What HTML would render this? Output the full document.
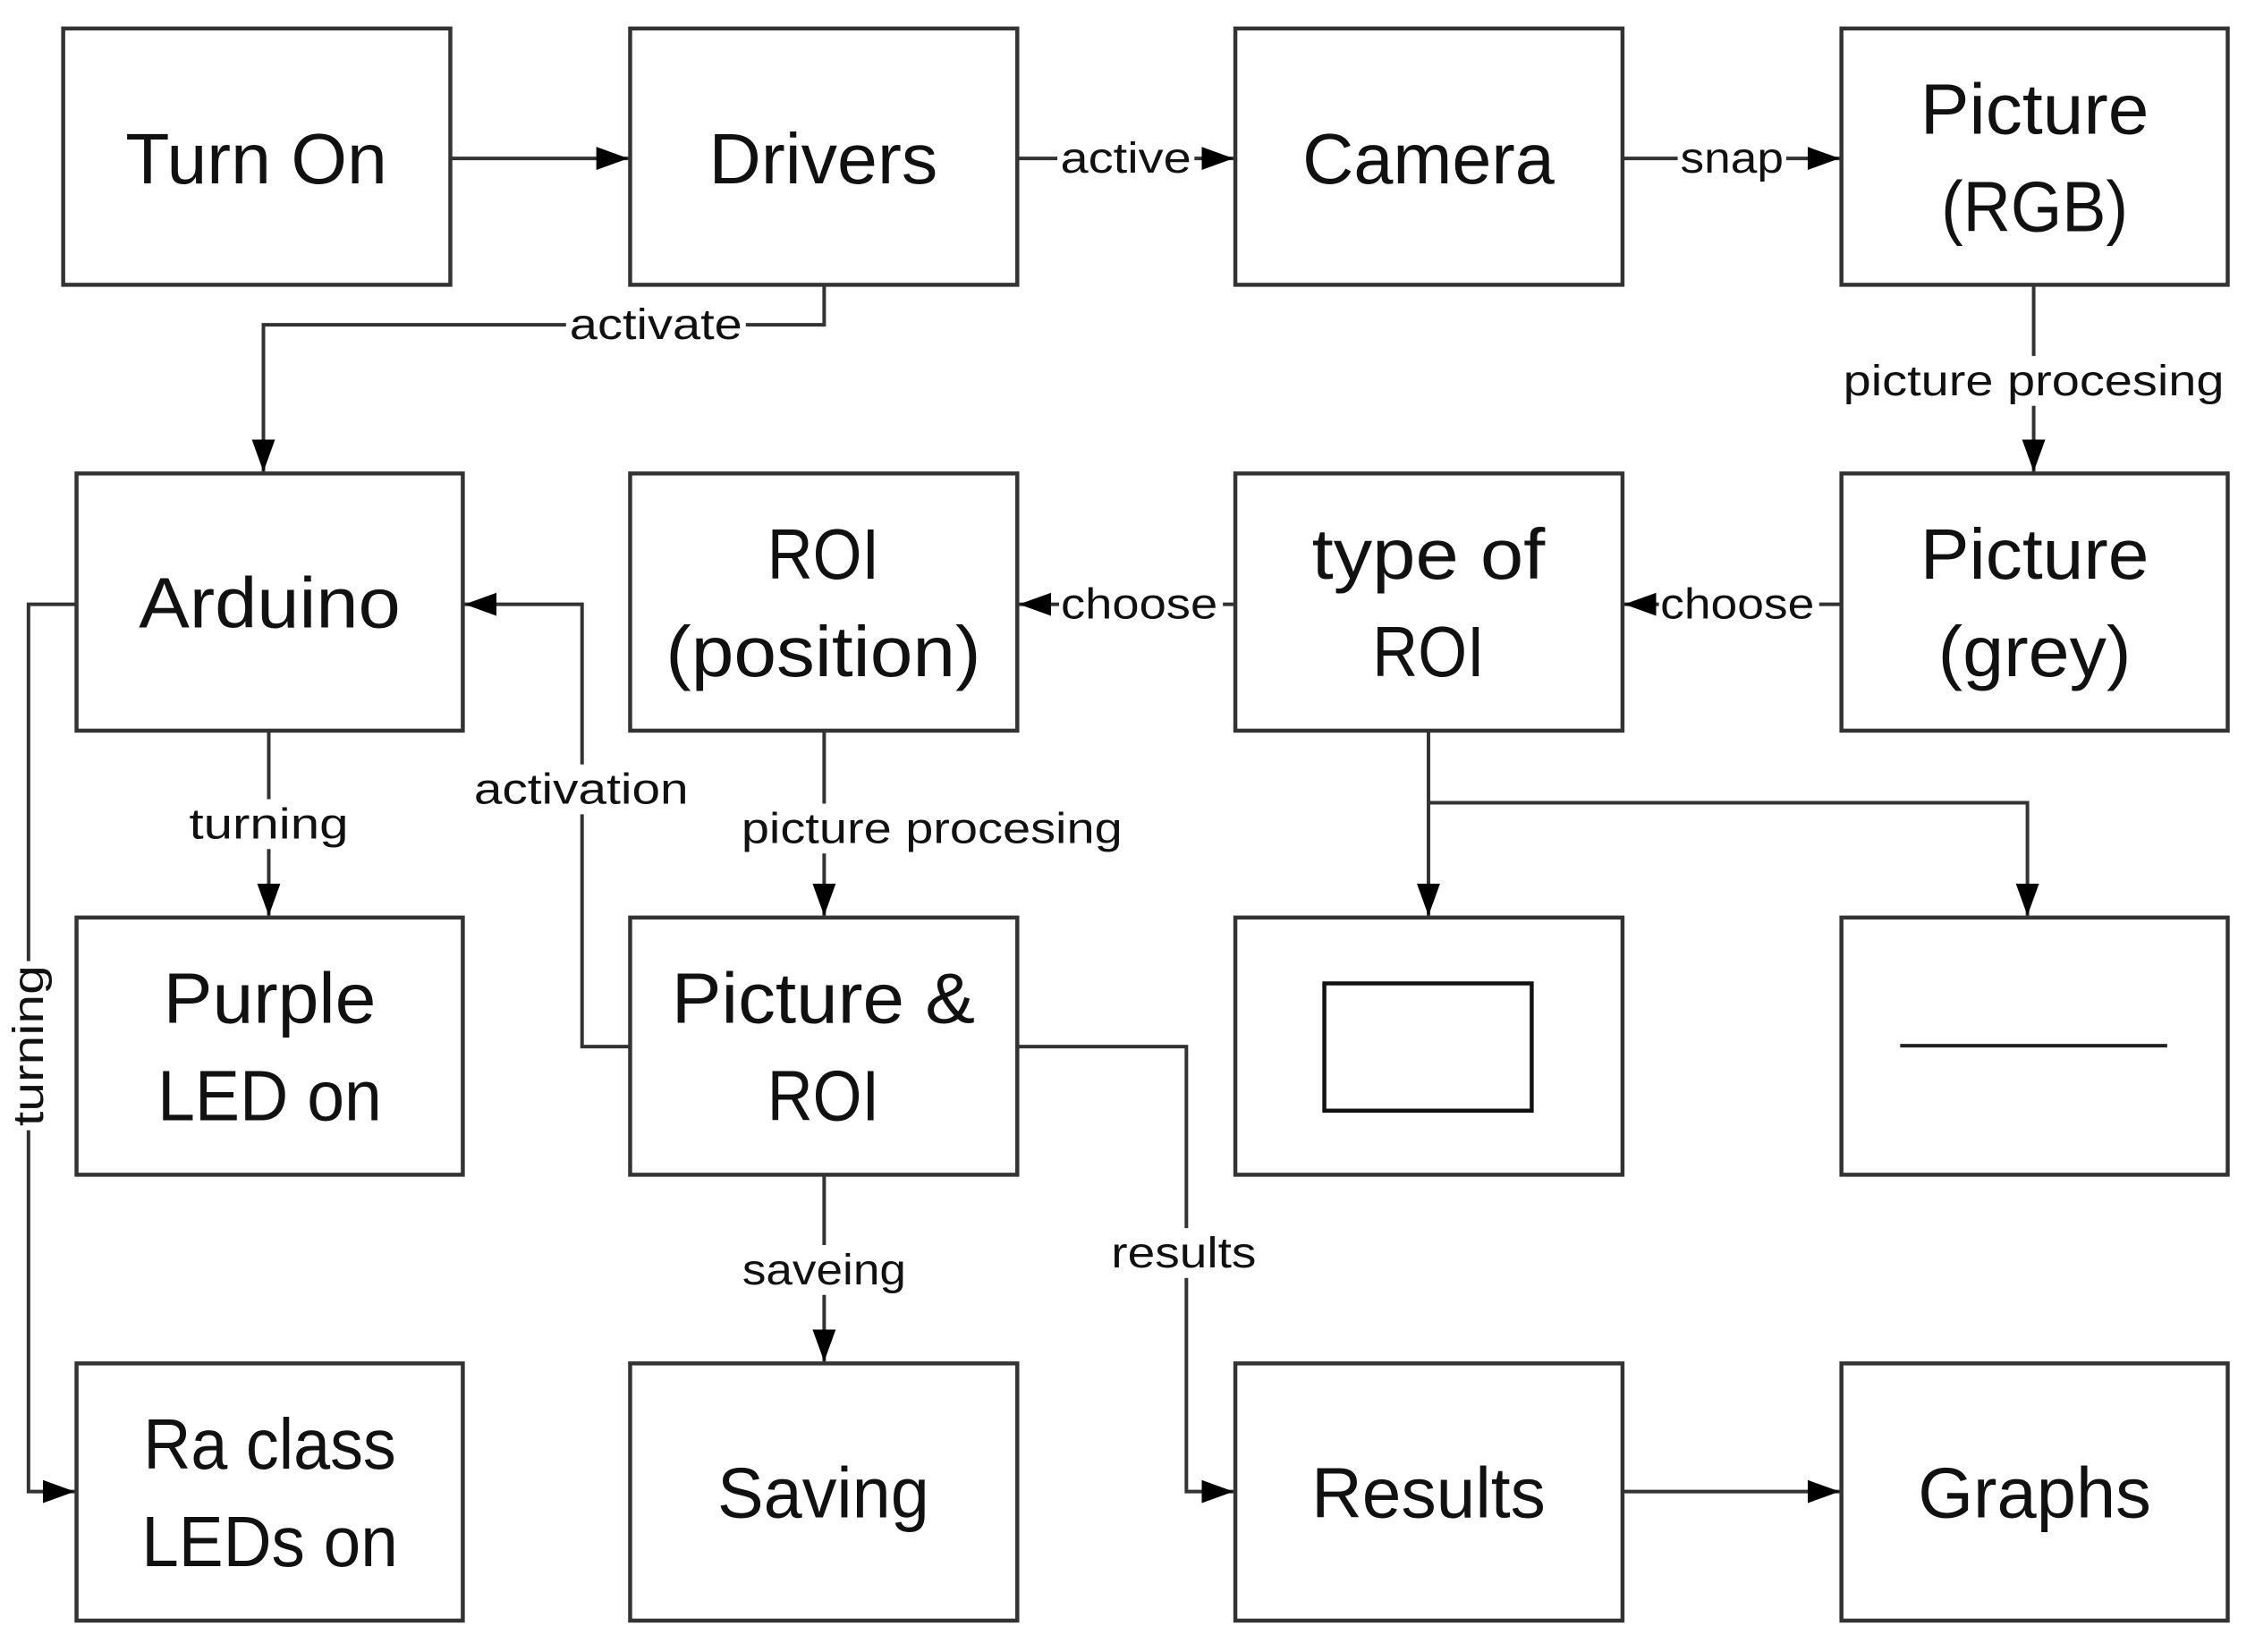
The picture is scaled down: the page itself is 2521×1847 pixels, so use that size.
<!DOCTYPE html>
<html><head><meta charset="utf-8"><style>html,body{margin:0;padding:0;background:#fff}svg{display:block}</style></head>
<body>
<svg width="2521" height="1847" viewBox="0 0 2521 1847" xmlns="http://www.w3.org/2000/svg" font-family="Liberation Sans, sans-serif">
<defs>
<marker id="a" markerWidth="36" markerHeight="26" refX="36" refY="13" orient="auto" markerUnits="userSpaceOnUse"><path d="M0,0 L36,13 L0,26 Z" fill="#000"/></marker>
</defs>
<g transform="scale(0.995)">
<g fill="#fff" stroke="#333" stroke-width="4.5">
<rect x="71" y="32" width="435" height="288"/>
<rect x="708" y="32" width="435" height="288"/>
<rect x="1388" y="32" width="435" height="288"/>
<rect x="2069" y="32" width="434" height="288"/>
<rect x="86" y="532" width="434" height="289"/>
<rect x="708" y="532" width="435" height="289"/>
<rect x="1388" y="532" width="435" height="289"/>
<rect x="2069" y="532" width="434" height="289"/>
<rect x="86" y="1031" width="434" height="289"/>
<rect x="708" y="1031" width="435" height="289"/>
<rect x="1388" y="1031" width="435" height="289"/>
<rect x="2069" y="1031" width="434" height="289"/>
<rect x="86" y="1532" width="434" height="289"/>
<rect x="708" y="1532" width="435" height="289"/>
<rect x="1388" y="1532" width="435" height="289"/>
<rect x="2069" y="1532" width="434" height="289"/>
<rect x="1488" y="1105" width="233" height="143" stroke="#111"/>
</g>
<line x1="2135" y1="1175" x2="2435" y2="1175" stroke="#222" stroke-width="4"/>
<g fill="none" stroke="#333" stroke-width="4">
<path d="M506,178 H706" marker-end="url(#a)"/>
<path d="M1143,178 H1386" marker-end="url(#a)"/>
<path d="M1823,178 H2067" marker-end="url(#a)"/>
<path d="M926,320 V365 H296 V530" marker-end="url(#a)"/>
<path d="M2285,320 V530" marker-end="url(#a)"/>
<path d="M2069,679 H1825" marker-end="url(#a)"/>
<path d="M1388,679 H1145" marker-end="url(#a)"/>
<path d="M302,821 V1029" marker-end="url(#a)"/>
<path d="M926,821 V1029" marker-end="url(#a)"/>
<path d="M708,1176 H654 V679 H522" marker-end="url(#a)"/>
<path d="M86,679 H32 V1676 H84" marker-end="url(#a)"/>
<path d="M1605,821 V1029" marker-end="url(#a)"/>
<path d="M1605,902 H2278 V1029" marker-end="url(#a)"/>
<path d="M926,1320 V1530" marker-end="url(#a)"/>
<path d="M1143,1176 H1333 V1676 H1386" marker-end="url(#a)"/>
<path d="M1823,1676 H2067" marker-end="url(#a)"/>
</g>
<g fill="#fff">
<rect x="1188" y="150" width="154" height="56"/>
<rect x="1885" y="150" width="122" height="56"/>
<rect x="636" y="337" width="202" height="56"/>
<rect x="2068" y="400" width="434" height="56"/>
<rect x="1864" y="651" width="180" height="56"/>
<rect x="1190" y="651" width="184" height="56"/>
<rect x="210" y="898" width="186" height="56"/>
<rect x="530" y="859" width="248" height="56"/>
<rect x="830" y="903" width="434" height="56"/>
<rect x="831" y="1399" width="190" height="56"/>
<rect x="1245" y="1380" width="170" height="56"/>
<rect x="4" y="1080" width="56" height="190"/>
</g>
<g font-size="48" fill="#111" text-anchor="middle">
<text x="1265" y="194" textLength="147" lengthAdjust="spacingAndGlyphs">active</text>
<text x="1946" y="194" textLength="116" lengthAdjust="spacingAndGlyphs">snap</text>
<text x="737" y="381" textLength="194" lengthAdjust="spacingAndGlyphs">activate</text>
<text x="2285" y="444" textLength="428" lengthAdjust="spacingAndGlyphs">picture procesing</text>
<text x="1952" y="695" textLength="173" lengthAdjust="spacingAndGlyphs">choose</text>
<text x="1280" y="695" textLength="176" lengthAdjust="spacingAndGlyphs">choose</text>
<text x="302" y="942" textLength="179" lengthAdjust="spacingAndGlyphs">turning</text>
<text x="653" y="903" textLength="241" lengthAdjust="spacingAndGlyphs">activation</text>
<text x="1047" y="947" textLength="428" lengthAdjust="spacingAndGlyphs">picture procesing</text>
<text x="926" y="1443" textLength="184" lengthAdjust="spacingAndGlyphs">saveing</text>
<text x="1330" y="1424" textLength="163" lengthAdjust="spacingAndGlyphs">results</text>
<text x="0" y="0" transform="translate(48,1175) rotate(-90)" textLength="181" lengthAdjust="spacingAndGlyphs">turning</text>
</g>
<g font-size="80" fill="#111" text-anchor="middle">
<text x="288" y="206" textLength="294" lengthAdjust="spacingAndGlyphs">Turn On</text>
<text x="925" y="206" textLength="257" lengthAdjust="spacingAndGlyphs">Drivers</text>
<text x="1605" y="206" textLength="283" lengthAdjust="spacingAndGlyphs">Camera</text>
<text x="2286" y="150" textLength="257" lengthAdjust="spacingAndGlyphs">Picture</text>
<text x="2286" y="260" textLength="210" lengthAdjust="spacingAndGlyphs">(RGB)</text>
<text x="303" y="705" textLength="294" lengthAdjust="spacingAndGlyphs">Arduino</text>
<text x="925" y="650" textLength="126" lengthAdjust="spacingAndGlyphs">ROI</text>
<text x="925" y="760" textLength="354" lengthAdjust="spacingAndGlyphs">(position)</text>
<text x="1605" y="650" textLength="262" lengthAdjust="spacingAndGlyphs">type of</text>
<text x="1605" y="760" textLength="126" lengthAdjust="spacingAndGlyphs">ROI</text>
<text x="2286" y="650" textLength="257" lengthAdjust="spacingAndGlyphs">Picture</text>
<text x="2286" y="760" textLength="217" lengthAdjust="spacingAndGlyphs">(grey)</text>
<text x="303" y="1149" textLength="239" lengthAdjust="spacingAndGlyphs">Purple</text>
<text x="303" y="1259" textLength="252" lengthAdjust="spacingAndGlyphs">LED on</text>
<text x="925" y="1149" textLength="341" lengthAdjust="spacingAndGlyphs">Picture &amp;</text>
<text x="925" y="1259" textLength="126" lengthAdjust="spacingAndGlyphs">ROI</text>
<text x="303" y="1650" textLength="284" lengthAdjust="spacingAndGlyphs">Ra class</text>
<text x="303" y="1760" textLength="288" lengthAdjust="spacingAndGlyphs">LEDs on</text>
<text x="925" y="1705" textLength="238" lengthAdjust="spacingAndGlyphs">Saving</text>
<text x="1605" y="1705" textLength="263" lengthAdjust="spacingAndGlyphs">Results</text>
<text x="2286" y="1705" textLength="262" lengthAdjust="spacingAndGlyphs">Graphs</text>
</g>
</g>
</svg>
</body></html>
